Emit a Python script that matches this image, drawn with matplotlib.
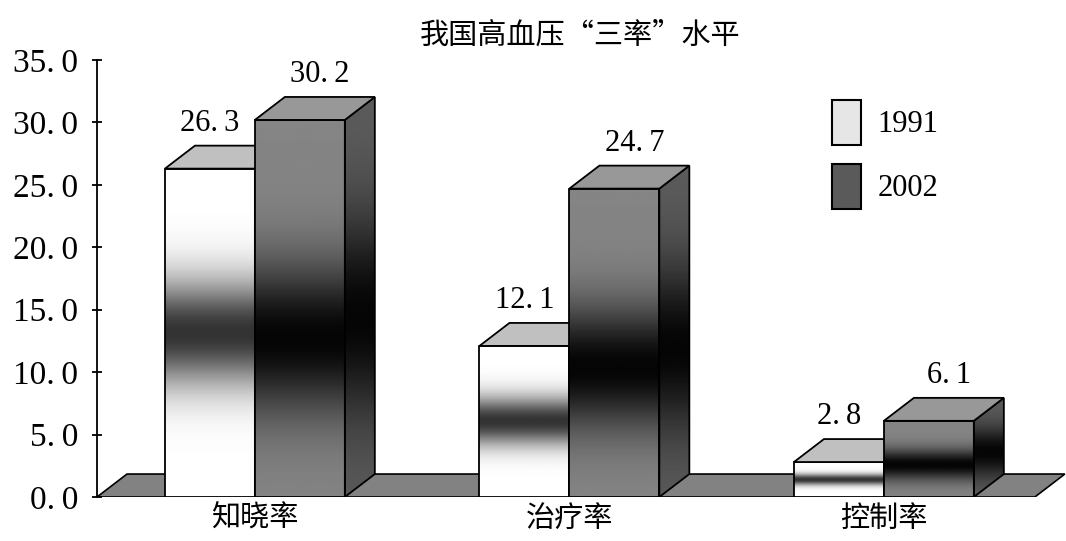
import numpy as np
import matplotlib
matplotlib.use("Agg")
import matplotlib.pyplot as plt
from matplotlib.patches import Polygon, Rectangle, Patch

# ---- data ----
categories = ["知晓率", "治疗率", "控制率"]
series_names = ["1991", "2002"]
values_1991 = [26.3, 12.1, 2.8]
values_2002 = [30.2, 24.7, 6.1]
title = "我国高血压“三率”水平"
yticks = [0, 5, 10, 15, 20, 25, 30, 35]

W, H = 1066, 541
fig = plt.figure(figsize=(W / 100, H / 100), dpi=100)
ax = fig.add_axes([97 / W, 44 / H, (W - 97) / W, 437 / H])

xmin, xmax = -0.502, 2.579
ax.set_xlim(xmin, xmax)
ax.set_ylim(0, 35)

bw = 0.286      # bar width (data units)
ddx = 0.0954    # 3D depth offset in x
ddy = 1.84      # 3D depth offset in y

SERIF = "Liberation Serif"
CJK = ["Noto Sans CJK SC", "DejaVu Sans"]
SP = "\u2009"


def fmt(v):
    s = f"{v:.1f}"
    a, b = s.split(".")
    return a + "." + SP + b


# floor
x_floor_r = 2.48
floor = Polygon([(xmin, 0), (x_floor_r, 0), (x_floor_r + ddx, ddy), (xmin + ddx, ddy)],
                closed=True, facecolor="#828282", edgecolor="black", lw=1.2, zorder=1)
ax.add_patch(floor)

N = 200
t = np.linspace(0, 1, N)


def grad_1991():
    return 1.0 - 0.8 * np.exp(-((t - 0.5) / 0.16) ** 2)


def grad_2002():
    g = 0.52 - 0.5 * np.exp(-((t - 0.42) / 0.2) ** 2)
    return np.clip(g, 0, 1)


def grad_side():
    g = 0.36 - 0.34 * np.exp(-((t - 0.45) / 0.25) ** 2)
    return np.clip(g, 0, 1)


def draw_bar(x0, h, front_grad, top_color, z):
    # front face
    rect = Rectangle((x0, 0), bw, h, facecolor="none", edgecolor="black", lw=1.3, zorder=z + 0.3)
    ax.add_patch(rect)
    im = ax.imshow(front_grad[:, None], extent=(x0, x0 + bw, 0, h), origin="lower",
                   cmap="gray", vmin=0, vmax=1, aspect="auto", zorder=z + 0.1,
                   interpolation="bilinear")
    im.set_clip_path(rect)
    # side face
    side = Polygon([(x0 + bw, 0), (x0 + bw + ddx, ddy), (x0 + bw + ddx, h + ddy), (x0 + bw, h)],
                   closed=True, facecolor="none", edgecolor="black", lw=1.3, zorder=z + 0.3)
    ax.add_patch(side)
    ims = ax.imshow(grad_side()[:, None], extent=(x0 + bw, x0 + bw + ddx, 0, h + ddy),
                    origin="lower", cmap="gray", vmin=0, vmax=1, aspect="auto",
                    zorder=z + 0.1, interpolation="bilinear")
    ims.set_clip_path(side)
    # top face
    top = Polygon([(x0, h), (x0 + bw, h), (x0 + bw + ddx, h + ddy), (x0 + ddx, h + ddy)],
                  closed=True, facecolor=top_color, edgecolor="black", lw=1.3, zorder=z + 0.3)
    ax.add_patch(top)


for i, (v1, v2) in enumerate(zip(values_1991, values_2002)):
    z = 2 + i * 2
    draw_bar(i - bw, v1, grad_1991(), "#c0c0c0", z)
    draw_bar(i, v2, grad_2002(), "#989898", z + 1)
    ax.text(i - bw / 2, v1 + ddy + 1.2, fmt(v1), ha="center", va="baseline",
            fontsize=22, family=SERIF, zorder=20)
    ax.text(i + bw / 2 + 0.064, v2 + ddy + 1.2, fmt(v2), ha="center", va="baseline",
            fontsize=22, family=SERIF, zorder=20)

# axes styling
for s in ["top", "right", "bottom"]:
    ax.spines[s].set_visible(False)
ax.spines["left"].set_linewidth(1.3)
ax.spines["left"].set_bounds(0, 35)
ax.set_yticks(yticks)
ax.set_yticklabels([fmt(v) for v in yticks], family=SERIF, fontsize=24)
ax.tick_params(axis="y", direction="inout", length=7, width=1.3, pad=10)
ax.set_xticks(range(len(categories)))
ax.set_xticklabels(categories, family=CJK, fontsize=21)
ax.tick_params(axis="x", length=0, pad=5)

fig.text(580 / W, 1 - 36 / H, title, ha="center", va="center", family=CJK, fontsize=21)

handles = [Patch(facecolor="#e6e6e6", edgecolor="black", lw=1.5),
           Patch(facecolor="#5a5a5a", edgecolor="black", lw=1.5)]
leg = ax.legend(handles, series_names, loc="upper left",
                bbox_to_anchor=(832 / W, 1 - 100 / H), bbox_transform=fig.transFigure,
                frameon=False, prop={"family": SERIF, "size": 22},
                handlelength=0.95, handleheight=1.9, labelspacing=0.6,
                handletextpad=0.55, borderpad=0, borderaxespad=0)

fig.savefig("out.png", dpi=100)
